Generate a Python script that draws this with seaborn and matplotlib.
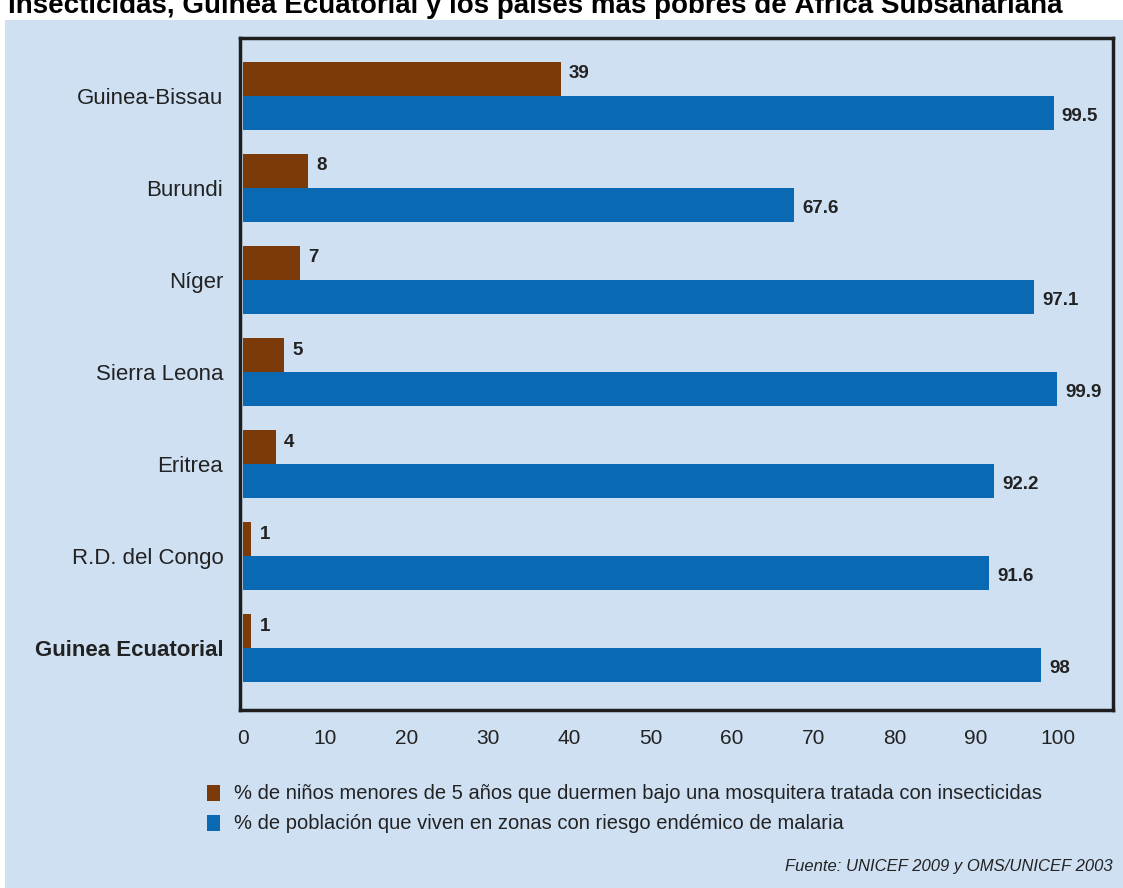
import numpy as np
import matplotlib.pyplot as plt
import pandas as pd
import seaborn as sns
from matplotlib.patches import Rectangle

paises = ['Guinea-Bissau', 'Burundi', 'Níger', 'Sierra Leona', 'Eritrea',
          'R.D. del Congo', 'Guinea Ecuatorial']
mosquitera = [39, 8, 7, 5, 4, 1, 1]
malaria = [99.5, 67.6, 97.1, 99.9, 92.2, 91.6, 98]
etiq_mosq = ['39', '8', '7', '5', '4', '1', '1']
etiq_mal = ['99.5', '67.6', '97.1', '99.9', '92.2', '91.6', '98']
serie1 = '% de niños menores de 5 años que duermen bajo una mosquitera tratada con insecticidas'
serie2 = '% de población que viven en zonas con riesgo endémico de malaria'
xticks = [0, 10, 20, 30, 40, 50, 60, 70, 80, 90, 100]

df = pd.DataFrame({
    'pais': paises * 2,
    'valor': mosquitera + malaria,
    'serie': [serie1] * len(paises) + [serie2] * len(paises),
})

sns.set_theme(style='white')
plt.rcParams['font.family'] = ['Liberation Sans', 'DejaVu Sans']

bg = '#cfe0f3'
brown = '#7b3a08'
blue = '#0a69b3'
txt = '#222222'

fig = plt.figure(figsize=(11.23, 8.88), dpi=100, facecolor='white')
fig.patches.append(Rectangle((5 / 1123, 0), 1, 1 - 20 / 888, transform=fig.transFigure,
                             facecolor=bg, edgecolor='none', zorder=-10))

ax = fig.add_axes([240 / 1123, 1 - 710 / 888, (1113 - 240) / 1123, (710 - 38) / 888])
ax.set_facecolor(bg)
sns.barplot(data=df, y='pais', x='valor', hue='serie', orient='h',
            palette=[brown, blue], width=0.74, saturation=1, linewidth=0,
            ax=ax, legend=False)

ax.set_xlim(-0.4, 106.8)
ax.set_ylim(6.67, -0.63)
ax.set_xticks(xticks)
ax.set_xticklabels([str(t) for t in xticks], fontsize=15, color=txt)
ax.tick_params(axis='x', length=0, pad=14)
ax.tick_params(axis='y', length=0, pad=12)
ax.set_yticklabels(paises, fontsize=16, color=txt)
ax.get_yticklabels()[-1].set_fontweight('bold')
ax.set_xlabel('')
ax.set_ylabel('')
for s in ax.spines.values():
    s.set_color('#1e1e1e')
    s.set_linewidth(2.5)

c1, c2 = ax.containers
for bar, lab in zip(c1, etiq_mosq):
    ax.text(bar.get_width() + 1.0, bar.get_y() + bar.get_height() * 0.35, lab,
            va='center', ha='left', fontsize=13.5, fontweight='bold', color=txt)
for bar, lab in zip(c2, etiq_mal):
    ax.text(bar.get_width() + 1.0, bar.get_y() + bar.get_height() * 0.6, lab,
            va='center', ha='left', fontsize=13.5, fontweight='bold', color=txt)

# title, cut at the top edge as in the original
fig.text(8 / 1123, 1 - 13 / 888,
         'Insecticidas, Guinea Ecuatorial y los países más pobres de África Subsahariana',
         fontsize=20, fontweight='bold', color='black', va='baseline', ha='left')

# legend
for i, (lab, col) in enumerate([(serie1, brown), (serie2, blue)]):
    y = 1 - (793 + 30 * i) / 888
    fig.patches.append(Rectangle((207 / 1123, y - 8 / 888), 13 / 1123, 16 / 888,
                                 transform=fig.transFigure, facecolor=col, edgecolor='none'))
    fig.text(234 / 1123, y, lab, fontsize=14.5, color=txt, va='center', ha='left')

fig.text(1113 / 1123, 1 - 866 / 888, 'Fuente: UNICEF 2009 y OMS/UNICEF 2003',
         fontsize=12, style='italic', color=txt, va='center', ha='right')

fig.savefig('out.png', dpi=100, facecolor='white')
